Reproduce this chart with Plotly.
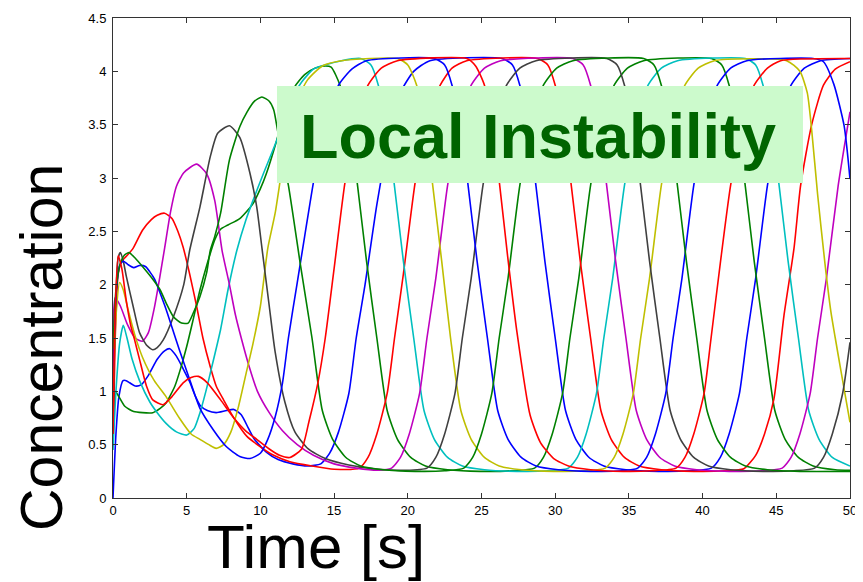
import plotly.graph_objects as go

# ---------------- data (time [s], concentration) ----------------
B1 = [(0,0.0),(0.2,0.6),(0.4,0.95),(0.68,1.10),(0.9,1.10),(1.13,1.08),(1.5,1.05),(1.9,1.06),(2.4,1.15),(3.0,1.30),(3.5,1.38),(3.85,1.40),(4.3,1.33),(4.8,1.20),(5.2,1.09),(5.6,0.95),(5.9,0.87),(6.4,0.82),(7.0,0.80),(7.7,0.82),(8.2,0.83),(8.7,0.78),(9.2,0.65),(9.6,0.55),(10.4,0.43),(11.2,0.36),(12.2,0.32),(13.2,0.30),(14.1,0.32),(14.7,0.42),(15.3,0.62),(16.0,0.98),(16.5,1.50),(17.1,2.00),(17.9,2.75),(18.7,3.35),(19.5,3.80),(20.4,4.00),(21.5,4.10),(26.4,4.12),(27.1,4.06),(27.6,3.87),(28.2,3.45),(28.7,2.92),(29.3,2.22),(30.0,1.50),(30.7,0.82),(31.4,0.55),(32.3,0.38),(33.3,0.30),(34.8,0.265),(37.0,0.25),(39.1,0.255),(40.6,0.28),(41.2,0.38),(41.8,0.60),(42.5,0.98),(43.0,1.50),(43.6,2.06),(44.4,2.93),(45.2,3.52),(46.0,3.87),(46.9,4.03),(48.0,4.10),(50.0,4.12)]

G2 = [(0,0.7),(0.15,1.0),(0.4,0.95),(0.8,0.86),(1.4,0.81),(2.0,0.80),(2.7,0.80),(3.2,0.84),(3.6,0.89),(4.2,1.05),(4.6,1.22),(5.0,1.42),(5.4,1.65),(5.9,1.95),(6.4,2.20),(6.9,2.42),(7.3,2.52),(7.8,2.56),(8.6,2.62),(9.5,2.76),(10.0,2.90),(10.4,3.04),(11.1,3.35),(11.7,3.65),(12.3,3.85),(13.0,3.97),(13.7,4.03),(14.4,4.05),(14.8,4.04),(15.4,3.87),(16.1,3.45),(16.6,2.92),(17.2,2.22),(17.9,1.50),(18.6,0.82),(19.3,0.55),(20.2,0.38),(21.2,0.30),(22.7,0.265),(24.9,0.25),(27.0,0.255),(28.6,0.28),(29.2,0.38),(29.8,0.60),(30.5,0.98),(31.0,1.50),(31.6,2.06),(32.4,2.93),(33.2,3.52),(34.0,3.87),(34.9,4.03),(36.0,4.10),(40.6,4.12),(41.3,4.06),(41.8,3.87),(42.4,3.45),(42.9,2.92),(43.5,2.22),(44.2,1.50),(44.9,0.82),(45.6,0.55),(46.5,0.38),(47.5,0.30),(49.0,0.265),(50.0,0.26)]

R3 = [(0,0.5),(0.15,1.5),(0.35,2.1),(0.6,2.22),(1.0,2.28),(1.36,2.34),(2.0,2.51),(2.6,2.61),(3.0,2.65),(3.5,2.67),(4.0,2.62),(4.4,2.50),(4.76,2.35),(5.2,2.10),(5.67,1.80),(6.1,1.50),(6.6,1.23),(7.0,1.05),(7.5,0.92),(8.2,0.75),(9.07,0.58),(10.0,0.48),(10.9,0.40),(12.0,0.34),(13.5,0.30),(15.0,0.27),(16.7,0.28),(17.3,0.38),(17.9,0.60),(18.6,0.98),(19.1,1.50),(19.7,2.10),(20.5,2.96),(21.3,3.55),(22.2,3.87),(23.0,4.03),(24.0,4.10),(28.8,4.12),(29.5,4.06),(30.0,3.87),(30.6,3.45),(31.1,2.92),(31.7,2.22),(32.4,1.50),(33.1,0.82),(33.8,0.55),(34.7,0.38),(35.7,0.30),(37.2,0.265),(39.4,0.25),(41.5,0.255),(42.8,0.275),(43.6,0.40),(44.2,0.60),(44.84,0.93),(45.52,1.71),(46.2,2.34),(46.65,2.93),(47.4,3.50),(48.2,3.87),(49.0,4.02),(50.0,4.09)]

C4 = [(0,0.45),(0.2,1.0),(0.45,1.45),(0.7,1.62),(0.95,1.50),(1.3,1.30),(1.8,1.10),(2.5,0.90),(3.0,0.80),(3.6,0.70),(4.3,0.62),(5.0,0.59),(5.5,0.65),(5.9,0.80),(6.3,1.00),(6.6,1.17),(7.3,1.58),(7.8,1.95),(8.4,2.32),(9.0,2.60),(9.5,2.79),(10.2,3.04),(11.1,3.35),(12.0,3.70),(12.8,3.90),(13.6,4.02),(14.4,4.06),(15.5,4.10),(16.8,4.12),(17.5,4.06),(18.0,3.87),(18.6,3.45),(19.1,2.92),(19.7,2.22),(20.4,1.50),(21.1,0.82),(21.8,0.55),(22.7,0.38),(23.7,0.30),(25.2,0.265),(27.4,0.25),(29.5,0.255),(30.9,0.28),(31.5,0.38),(32.1,0.60),(32.8,0.98),(33.3,1.50),(33.9,2.06),(34.7,2.93),(35.5,3.52),(36.3,3.87),(37.2,4.03),(38.3,4.10),(42.9,4.12),(43.6,4.06),(44.1,3.87),(44.7,3.45),(45.2,2.92),(45.8,2.22),(46.5,1.50),(47.2,0.82),(47.9,0.55),(48.8,0.38),(50.0,0.30)]

M5 = [(0,1.6),(0.15,1.88),(0.5,1.80),(1.0,1.62),(1.5,1.50),(2.0,1.47),(2.4,1.55),(2.8,1.78),(3.15,2.05),(3.5,2.34),(3.9,2.68),(4.3,2.92),(4.8,3.05),(5.67,3.13),(6.35,3.04),(6.9,2.79),(7.4,2.32),(7.9,2.00),(8.3,1.72),(8.7,1.50),(9.2,1.25),(9.8,1.00),(10.6,0.80),(11.5,0.63),(12.5,0.50),(13.6,0.40),(15.0,0.32),(16.5,0.28),(18.0,0.26),(18.9,0.28),(19.5,0.38),(20.1,0.60),(20.8,0.98),(21.3,1.50),(21.9,2.06),(22.7,2.93),(23.5,3.52),(24.3,3.87),(25.2,4.03),(26.3,4.10),(31.2,4.12),(31.9,4.06),(32.4,3.87),(33.0,3.45),(33.5,2.92),(34.1,2.22),(34.8,1.50),(35.5,0.82),(36.2,0.55),(37.1,0.38),(38.1,0.30),(39.6,0.265),(41.8,0.25),(44.0,0.255),(45.4,0.28),(46.0,0.38),(46.6,0.60),(47.3,0.98),(47.8,1.50),(48.4,2.06),(49.2,2.93),(50.0,3.62)]

Y6 = [(0,1.0),(0.2,1.7),(0.45,2.02),(0.7,1.95),(1.0,1.78),(1.5,1.52),(2.0,1.32),(2.8,1.10),(3.6,0.95),(4.5,0.75),(5.3,0.60),(5.9,0.55),(6.5,0.50),(7.0,0.465),(7.5,0.50),(8.0,0.62),(8.5,0.85),(9.0,1.15),(9.5,1.45),(10.0,1.80),(10.5,2.34),(11.0,2.67),(11.6,3.20),(12.4,3.70),(13.2,3.92),(14.2,4.05),(15.5,4.10),(19.3,4.12),(20.0,4.06),(20.6,3.87),(21.2,3.45),(21.7,2.92),(22.3,2.22),(22.9,1.50),(23.6,0.82),(24.3,0.55),(25.2,0.38),(26.2,0.30),(27.7,0.265),(29.9,0.25),(32.0,0.255),(33.4,0.28),(34.0,0.38),(34.6,0.60),(35.3,0.98),(35.8,1.50),(36.4,2.06),(37.2,2.93),(38.0,3.52),(38.8,3.87),(39.7,4.03),(40.8,4.10),(45.7,4.10),(46.6,4.00),(47.1,3.80),(47.4,3.45),(47.8,2.85),(48.3,2.20),(48.7,1.75),(49.0,1.50),(49.4,1.18),(50.0,0.71)]

K7 = [(0,0.6),(0.15,1.7),(0.35,2.25),(0.5,2.30),(0.7,2.22),(0.9,2.08),(1.36,1.80),(1.8,1.55),(2.3,1.43),(2.7,1.39),(3.0,1.41),(3.4,1.48),(4.1,1.70),(4.8,2.00),(5.2,2.32),(5.9,2.73),(6.6,3.20),(7.1,3.42),(7.9,3.49),(8.6,3.38),(9.3,3.04),(9.75,2.73),(10.1,2.35),(10.6,1.80),(11.0,1.37),(11.66,0.90),(12.34,0.62),(13.25,0.46),(14.4,0.37),(16.0,0.31),(18.0,0.27),(19.8,0.26),(21.3,0.28),(21.9,0.38),(22.5,0.60),(23.2,0.98),(23.7,1.50),(24.3,2.06),(25.1,2.93),(25.9,3.52),(26.7,3.87),(27.6,4.03),(28.7,4.10),(33.5,4.12),(34.2,4.06),(34.7,3.87),(35.3,3.45),(35.8,2.92),(36.4,2.22),(37.1,1.50),(37.8,0.82),(38.5,0.55),(39.4,0.38),(40.4,0.30),(41.9,0.265),(44.1,0.25),(46.2,0.255),(47.6,0.28),(48.2,0.38),(48.8,0.60),(49.5,0.98),(50.0,1.46)]

B8 = [(0,1.2),(0.2,1.9),(0.45,2.18),(0.7,2.22),(1.0,2.19),(1.4,2.16),(1.8,2.18),(2.2,2.17),(2.5,2.12),(2.83,2.05),(3.2,1.92),(3.6,1.77),(4.0,1.60),(4.5,1.39),(5.2,1.11),(5.9,0.84),(6.8,0.64),(7.7,0.48),(8.6,0.39),(9.3,0.37),(10.0,0.42),(10.5,0.55),(11.0,0.76),(11.5,1.08),(11.9,1.50),(12.5,2.02),(13.0,2.45),(13.6,2.96),(14.3,3.45),(15.3,3.87),(16.2,4.02),(17.2,4.10),(21.8,4.12),(22.5,4.06),(23.0,3.87),(23.6,3.45),(24.1,2.92),(24.7,2.22),(25.4,1.50),(26.1,0.82),(26.8,0.55),(27.7,0.38),(28.7,0.30),(30.2,0.265),(32.4,0.25),(34.5,0.255),(35.6,0.28),(36.2,0.38),(36.8,0.60),(37.5,0.98),(38.0,1.50),(38.6,2.06),(39.4,2.93),(40.2,3.52),(41.0,3.87),(41.9,4.03),(43.0,4.10),(47.5,4.12),(48.2,4.09),(48.9,3.88),(49.6,3.49),(50.0,2.99)]

G9 = [(0,1.4),(0.2,1.95),(0.5,2.20),(0.8,2.28),(1.1,2.30),(1.5,2.25),(2.0,2.17),(2.7,2.05),(3.2,1.95),(3.6,1.83),(4.1,1.70),(4.65,1.64),(5.1,1.64),(5.4,1.72),(5.9,1.89),(6.35,2.11),(6.6,2.32),(6.9,2.45),(7.3,2.67),(7.9,3.17),(8.6,3.48),(9.1,3.62),(9.6,3.72),(10.1,3.76),(10.6,3.72),(10.9,3.64),(11.2,3.42),(11.9,2.93),(12.7,2.20),(13.5,1.50),(14.2,0.82),(14.9,0.55),(15.8,0.38),(16.8,0.30),(18.3,0.265),(20.5,0.25),(22.5,0.255),(23.8,0.28),(24.4,0.38),(25.0,0.60),(25.7,0.98),(26.2,1.50),(26.8,2.06),(27.6,2.93),(28.4,3.52),(29.2,3.87),(30.1,4.03),(31.2,4.10),(36.0,4.12),(36.7,4.06),(37.2,3.87),(37.8,3.45),(38.3,2.92),(38.9,2.22),(39.6,1.50),(40.3,0.82),(41.0,0.55),(41.9,0.38),(42.9,0.30),(44.4,0.265),(46.6,0.25),(50.0,0.25)]

R10 = [(0,0.6),(0.12,1.6),(0.35,2.27),(0.6,2.15),(0.9,1.85),(1.2,1.62),(1.47,1.48),(1.8,1.30),(2.27,1.05),(2.7,0.92),(3.4,0.875),(4.0,0.95),(4.76,1.08),(5.3,1.13),(5.8,1.14),(6.4,1.08),(7.3,0.92),(8.2,0.75),(9.0,0.63),(9.75,0.55),(10.7,0.45),(11.3,0.40),(12.0,0.38),(12.8,0.46),(13.3,0.72),(13.9,1.08),(14.4,1.50),(15.0,2.15),(15.74,2.96),(16.5,3.50),(17.3,3.87),(18.2,4.03),(19.3,4.10),(24.0,4.12),(24.6,4.05),(25.2,3.87),(25.7,3.50),(26.22,2.95),(26.77,2.27),(27.4,1.56),(28.3,0.775),(29.0,0.52),(29.9,0.37),(30.9,0.30),(32.4,0.265),(34.6,0.25),(36.5,0.255),(38.2,0.28),(38.8,0.38),(39.4,0.60),(40.1,0.98),(40.54,1.46),(41.2,2.20),(41.9,2.93),(42.7,3.50),(43.5,3.87),(44.4,4.03),(45.3,4.10),(50.0,4.12)]

x_tick_vals = [0, 5, 10, 15, 20, 25, 30, 35, 40, 45, 50]
x_tick_text = ["0", "5", "10", "15", "20", "25", "30", "35", "40", "45", "50"]
y_tick_vals = [0, 0.5, 1, 1.5, 2, 2.5, 3, 3.5, 4, 4.5]
y_tick_text = ["0", "0.5", "1", "1.5", "2", "2.5", "3", "3.5", "4", "4.5"]

# MATLAB default line colour order, plotted in order
series = [
    (B1, "#0000ff"), (G2, "#008000"), (R3, "#ff0000"), (C4, "#00bfbf"), (M5, "#bf00bf"),
    (Y6, "#bfbf00"), (K7, "#404040"), (B8, "#0000ff"), (G9, "#008000"), (R10, "#ff0000"),
]

fig = go.Figure()
for pts, col in series:
    fig.add_trace(go.Scatter(
        x=[p[0] for p in pts], y=[p[1] for p in pts], mode="lines",
        line=dict(color=col, width=1.6, shape="spline", smoothing=0.6),
        showlegend=False, hoverinfo="skip"))

axis_col = "#333333"
# the page body has an 8 px default margin, so the figure is sized to fit inside the window
fig.update_layout(
    width=855, height=574,
    margin=dict(l=105, r=13, t=10, b=84, autoexpand=False),
    paper_bgcolor="white", plot_bgcolor="white",
    font=dict(family="Liberation Sans, Arial, sans-serif", color="black"),
    showlegend=False,
)
fig.update_xaxes(range=[0, 50], tickmode="array", tickvals=x_tick_vals, ticktext=x_tick_text,
                 ticks="inside", ticklen=5, tickcolor=axis_col, showline=True, linecolor=axis_col,
                 linewidth=1, mirror="ticks", showgrid=False, zeroline=False, automargin=False,
                 tickfont=dict(size=13, color="black"))
fig.update_yaxes(range=[0, 4.5], tickmode="array", tickvals=y_tick_vals, ticktext=y_tick_text,
                 ticks="inside", ticklen=5, tickcolor=axis_col, showline=True, linecolor=axis_col,
                 linewidth=1, mirror="ticks", showgrid=False, zeroline=False, automargin=False,
                 ticklabelstandoff=3, tickfont=dict(size=13, color="black"))

# label box
fig.add_shape(type="rect", xref="paper", yref="paper", x0=0.2225, x1=0.9362, y0=0.65625, y1=0.8583,
              fillcolor="#ccfacc", line=dict(width=0), layer="above")
fig.add_annotation(text="<b>Local Instability</b>", xref="paper", yref="paper", x=0.5767, y=0.754,
                   xanchor="center", yanchor="middle", showarrow=False,
                   font=dict(family="Liberation Sans, Arial, sans-serif", size=63, color="#006400"))
# axis titles
fig.add_annotation(text="Time [s]", xref="paper", yref="paper", x=0.2754, y=-0.100,
                   xanchor="center", yanchor="middle", showarrow=False,
                   font=dict(family="Liberation Sans, Arial, sans-serif", size=62, color="black"))
fig.add_annotation(text="Concentration", xref="paper", yref="paper", x=-0.0963, y=0.3125,
                   xanchor="center", yanchor="middle", textangle=-90, showarrow=False,
                   font=dict(family="Liberation Sans, Arial, sans-serif", size=59, color="black"))

fig.write_html("out.html")
